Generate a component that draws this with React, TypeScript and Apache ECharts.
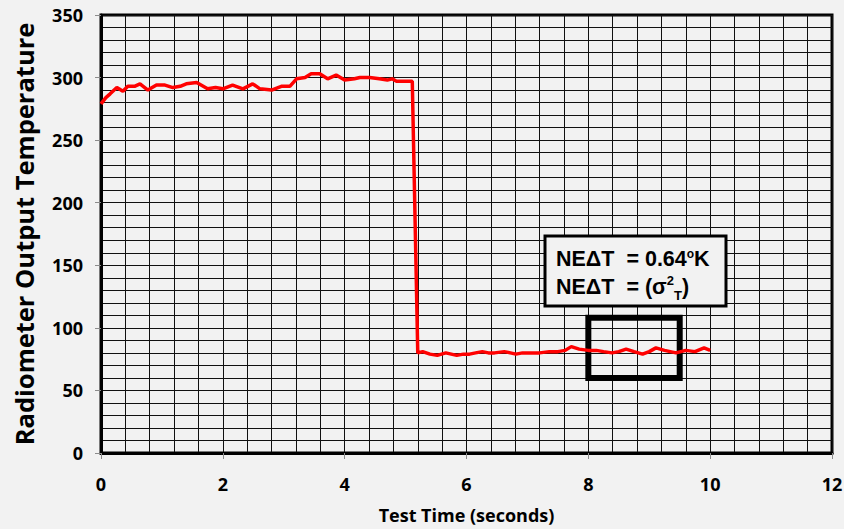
import React, { useEffect, useRef } from "react";
import * as echarts from "echarts";

const timeSeconds = [
  0.0, 0.08, 0.15, 0.26, 0.36, 0.44, 0.55, 0.64, 0.77, 0.91, 1.05, 1.18, 1.3, 1.4, 1.57, 1.75, 1.88, 2.0,
  2.16, 2.33, 2.49, 2.61, 2.8, 2.96, 3.1, 3.21, 3.35, 3.45, 3.59, 3.72, 3.86, 4.0, 4.16, 4.25, 4.41, 4.57,
  4.7, 4.78, 4.85, 5.0, 5.11, 5.2, 5.28, 5.4, 5.52, 5.66, 5.75, 5.84, 5.95, 6.05, 6.15, 6.26, 6.36, 6.46,
  6.62, 6.72, 6.81, 6.92, 7.03, 7.2, 7.36, 7.5, 7.62, 7.72, 7.85, 8.0, 8.13, 8.25, 8.39, 8.5, 8.62, 8.75,
  8.89, 9.0, 9.11, 9.25, 9.44, 9.6, 9.75, 9.9, 10.0,
];
const temperature = [
  279, 284, 287, 292, 289, 293, 293, 295, 290, 294, 294, 292, 293, 295, 296, 291, 292, 291,
  294, 291, 295, 291, 290, 293, 293, 299, 300, 303, 303, 299, 302, 298, 299, 300, 300, 299,
  298, 299, 297, 297, 297, 80, 81, 79, 78, 80, 79, 78, 79, 79, 80, 81, 80, 80,
  81, 80, 79, 80, 80, 80, 81, 81, 82, 85, 83, 82, 82, 81, 80, 81, 83, 81,
  79, 81, 84, 82, 80, 82, 81, 84, 82,
];
const xTicks = [0, 2, 4, 6, 8, 10, 12];
const yTicks = [0, 50, 100, 150, 200, 250, 300, 350];
const windowX = [8, 9.5];
const windowY = [60, 108];
const noteLine1 = "NEΔT  = 0.64";
const noteLine2 = "NEΔT  = (σ";

export default function App() {
  const ref = useRef<HTMLDivElement>(null);
  useEffect(() => {
    document.body.style.margin = "0";
    const chart = echarts.init(ref.current!, null, { renderer: "svg" });
    const data = timeSeconds.map((t, i) => [t, temperature[i]]);
    const font = "'Open Sans', sans-serif";
    const arial = "'Liberation Sans', Arial, sans-serif";
    chart.setOption({
      animation: false,
      backgroundColor: "#f2f2f2",
      grid: {
        left: 101,
        right: 12,
        top: 15,
        bottom: 76,
        containLabel: false,
        outerBoundsMode: "none",
        show: true,
        borderColor: "#000",
        borderWidth: 3,
        backgroundColor: "#f2f2f2",
      },
      xAxis: {
        type: "value",
        min: xTicks[0],
        max: xTicks[xTicks.length - 1],
        interval: 2,
        name: "Test Time (seconds)",
        nameLocation: "middle",
        nameGap: 53,
        nameTextStyle: { fontFamily: font, fontWeight: "bold", fontSize: 18, color: "#000" },
        axisLine: { show: true, lineStyle: { color: "#000", width: 3 } },
        axisTick: { show: true, length: 6, lineStyle: { color: "#8c8c8c", width: 1 } },
        axisLabel: { fontFamily: font, fontWeight: "bold", fontSize: 18, color: "#000", margin: 22 },
        splitLine: { show: true, lineStyle: { color: "#111", width: 1 } },
        minorTick: { show: false, splitNumber: 5 },
        minorSplitLine: { show: true, lineStyle: { color: "#111", width: 1 } },
      },
      yAxis: {
        type: "value",
        min: yTicks[0],
        max: yTicks[yTicks.length - 1],
        interval: 50,
        name: "Radiometer Output Temperature",
        nameLocation: "middle",
        nameGap: 64,
        nameTextStyle: { fontFamily: font, fontWeight: "bold", fontSize: 25.5, color: "#000" },
        axisLine: { show: true, lineStyle: { color: "#000", width: 3 } },
        axisTick: { show: true, length: 6, lineStyle: { color: "#8c8c8c", width: 1 } },
        axisLabel: { fontFamily: font, fontWeight: "bold", fontSize: 18, color: "#000", margin: 18 },
        splitLine: { show: true, lineStyle: { color: "#111", width: 1 } },
        minorTick: { show: false, splitNumber: 5 },
        minorSplitLine: { show: true, lineStyle: { color: "#111", width: 1 } },
      },
      series: [
        {
          type: "line",
          data,
          showSymbol: false,
          symbol: "none",
          lineStyle: { color: "#ff0000", width: 3.5 },
          z: 5,
          markArea: {
            silent: true,
            itemStyle: { color: "rgba(0,0,0,0)", borderColor: "#000", borderWidth: 6 },
            data: [[{ coord: [windowX[0], windowY[0]] }, { coord: [windowX[1], windowY[1]] }]],
          },
        },
      ],
      graphic: [
        {
          type: "rect",
          shape: { x: 545, y: 236, width: 181, height: 70 },
          style: { fill: "#f2f2f2", stroke: "#000", lineWidth: 3 },
          z: 100,
        },
        {
          type: "text",
          x: 556,
          y: 246,
          z: 101,
          style: {
            text: "{m|" + noteLine1 + "}{s|o}{m|K}",
            rich: {
              m: { fontFamily: arial, fontWeight: "bold", fontSize: 21.5, fill: "#000", lineHeight: 24, verticalAlign: "bottom" },
              s: { fontFamily: arial, fontWeight: "bold", fontSize: 12, fill: "#000", lineHeight: 24, verticalAlign: "top", padding: [2, 0, 0, 0] },
            },
          },
        },
        {
          type: "text",
          x: 556,
          y: 274,
          z: 101,
          style: {
            text: "{m|" + noteLine2 + "}{s|2}{b|T}{m|)}",
            rich: {
              m: { fontFamily: arial, fontWeight: "bold", fontSize: 21.5, fill: "#000", lineHeight: 24, verticalAlign: "bottom" },
              s: { fontFamily: arial, fontWeight: "bold", fontSize: 13, fill: "#000", lineHeight: 24, verticalAlign: "top" },
              b: { fontFamily: arial, fontWeight: "bold", fontSize: 13, fill: "#000", lineHeight: 24, verticalAlign: "bottom", padding: [0, 0, -4, 0] },
            },
          },
        },
      ],
    });
    return () => chart.dispose();
  }, []);
  return <div ref={ref} style={{ width: 844, height: 529 }} />;
}
